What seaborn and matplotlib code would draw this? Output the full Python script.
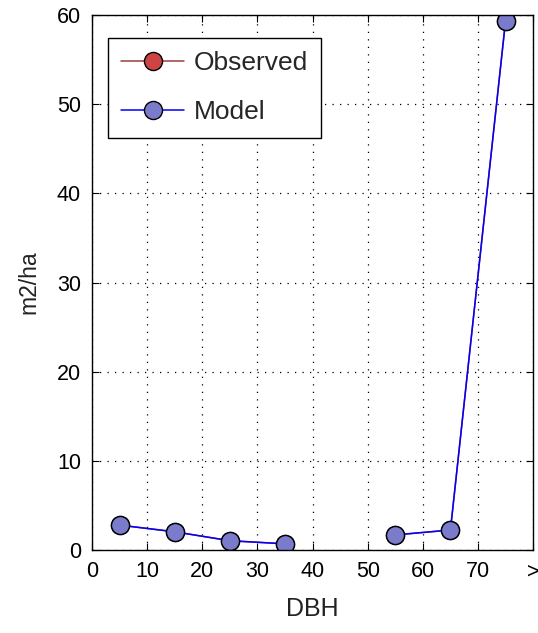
import numpy as np
import pandas as pd
import matplotlib
matplotlib.use("Agg")
import matplotlib.pyplot as plt
from matplotlib.lines import Line2D
import seaborn as sns

# DBH class midpoints (cm) and basal area per hectare
dbh = [5, 15, 25, 35, 45, 55, 65, 75]
observed = [2.8, 2.05, 1.05, 0.7, np.nan, 1.7, 2.25, 59.4]
model = [2.8, 2.05, 1.05, 0.7, np.nan, 1.7, 2.25, 59.4]
xtick_vals = [0, 10, 20, 30, 40, 50, 60, 70, 80]
xtick_labels = ["0", "10", "20", "30", "40", "50", "60", "70", ">"]
ytick_vals = [0, 10, 20, 30, 40, 50, 60]

sns.set_theme(style="white")
plt.rcParams["font.family"] = ["Liberation Sans", "DejaVu Sans"]


def segments(x, y):
    """Split a series at missing values so the line breaks there."""
    seg, rows = 0, []
    for xi, yi in zip(x, y):
        if np.isnan(yi):
            seg += 1
            continue
        rows.append({"dbh": xi, "value": yi, "segment": seg})
    return pd.DataFrame(rows)


obs_df = segments(dbh, observed)
mod_df = segments(dbh, model)

fig = plt.figure(figsize=(5.38, 6.33), dpi=100)
ax = fig.add_axes([0.171, 0.131, 0.82, 0.845])

obs_style = dict(color="#9a3c3c", markerfacecolor="#cc4444")
mod_style = dict(color="#0000ff", markerfacecolor="#7b7bcc")
common = dict(marker="o", markersize=13, markeredgecolor="black",
              markeredgewidth=1.0, linewidth=1.1)

sns.lineplot(data=obs_df, x="dbh", y="value", units="segment",
             estimator=None, sort=False, ax=ax, **obs_style, **common)
sns.lineplot(data=mod_df, x="dbh", y="value", units="segment",
             estimator=None, sort=False, ax=ax, **mod_style, **common)

ax.set_xlim(0, 80)
ax.set_ylim(0, 60)
ax.set_xticks(xtick_vals)
ax.set_xticklabels(xtick_labels)
ax.set_yticks(ytick_vals)
ax.tick_params(axis="both", which="major", direction="in", length=5,
               width=0.8, colors="black", labelsize=15.5, pad=8,
               top=True, right=True, bottom=True, left=True)
ax.grid(True, linestyle=(0, (1, 5)), color="black", linewidth=0.9)
for sp in ax.spines.values():
    sp.set_color("black")
    sp.set_linewidth(1.0)

ax.set_xlabel("DBH", fontsize=18, color="#222222", labelpad=11)
ax.set_ylabel("m2/ha", fontsize=16.5, color="#222222", labelpad=12)

handles = [
    Line2D([], [], **obs_style, **common),
    Line2D([], [], **mod_style, **common),
]
leg = ax.legend(handles, ["Observed", "Model"], loc="upper left",
                bbox_to_anchor=(0.036, 0.957), fontsize=19,
                frameon=True, fancybox=False, shadow=False,
                edgecolor="black", framealpha=1.0, borderaxespad=0,
                handlelength=2.4, handletextpad=0.35, borderpad=0.5,
                labelspacing=0.95)
leg.get_frame().set_linewidth(1.0)

fig.savefig("out.png", dpi=100, facecolor="white")
